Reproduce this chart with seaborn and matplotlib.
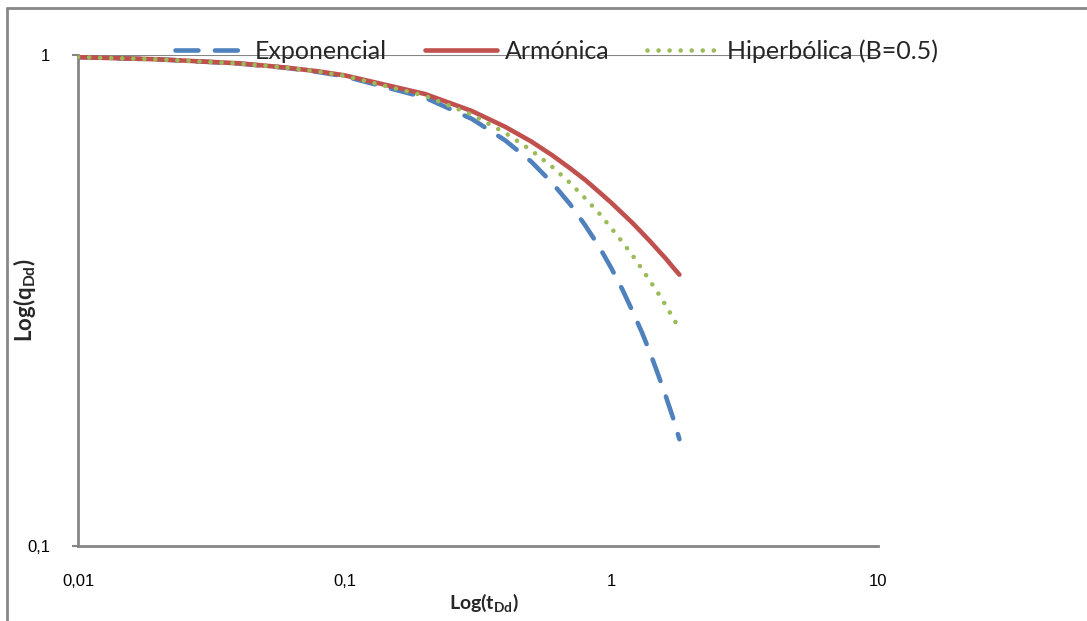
import numpy as np
import pandas as pd
import seaborn as sns
import matplotlib.pyplot as plt
from matplotlib.lines import Line2D
from matplotlib.ticker import FixedLocator, FixedFormatter, NullLocator

# tiempo adimensional t_Dd
t_dd = [0.01, 0.02, 0.04, 0.06, 0.08, 0.1, 0.2, 0.3, 0.4, 0.5, 0.6, 0.7,
        0.8, 0.9, 1.0, 1.1, 1.2, 1.3, 1.4, 1.5, 1.6, 1.7, 1.8]

# caudal adimensional q_Dd de cada tipo de declinacion
q_exponencial = [0.990, 0.980, 0.961, 0.942, 0.923, 0.905, 0.819, 0.741,
                 0.670, 0.607, 0.549, 0.497, 0.449, 0.407, 0.368, 0.333,
                 0.301, 0.273, 0.247, 0.223, 0.202, 0.183, 0.165]
q_armonica = [0.990, 0.980, 0.962, 0.943, 0.926, 0.909, 0.833, 0.769,
              0.714, 0.667, 0.625, 0.588, 0.556, 0.526, 0.500, 0.476,
              0.455, 0.435, 0.417, 0.400, 0.385, 0.370, 0.357]
q_hiperbolica = [0.990, 0.980, 0.961, 0.943, 0.925, 0.907, 0.826, 0.756,
                 0.694, 0.640, 0.592, 0.549, 0.510, 0.476, 0.444, 0.416,
                 0.391, 0.367, 0.346, 0.327, 0.309, 0.292, 0.277]

series = ['Exponencial', 'Armónica', 'Hiperbólica (B=0.5)']
x_ticks = [0.01, 0.1, 1, 10]
x_labels = ['0,01', '0,1', '1', '10']
y_ticks = [0.1, 1]
y_labels = ['0,1', '1']

sns.set_theme(style='white')
plt.rcParams['font.family'] = ['Lato', 'DejaVu Sans']
plt.rcParams['mathtext.fontset'] = 'custom'
plt.rcParams['mathtext.bf'] = 'Lato:bold'
plt.rcParams['mathtext.rm'] = 'Lato'

df = pd.DataFrame({'t': t_dd, series[0]: q_exponencial,
                   series[1]: q_armonica, series[2]: q_hiperbolica})

fig = plt.figure(figsize=(10.87, 6.21), dpi=100)
ax = fig.add_axes([0.0718, 0.1208, 0.7359, 0.7906])

blue, red, green = '#4F81BD', '#C0504D', '#9BBB59'
lw = 3.3
dash_blue = [5, 3.6]
dot_green = [0.01, 2.4]

sns.lineplot(data=df, x='t', y=series[0], ax=ax, color=blue, lw=lw, zorder=3)
ax.lines[-1].set_dashes(dash_blue)
ax.lines[-1].set_dash_capstyle('round')
sns.lineplot(data=df, x='t', y=series[1], ax=ax, color=red, lw=lw, zorder=4)
sns.lineplot(data=df, x='t', y=series[2], ax=ax, color=green, lw=lw, zorder=5)
ax.lines[-1].set_dashes(dot_green)
ax.lines[-1].set_dash_capstyle('round')

ax.set_xscale('log')
ax.set_yscale('log')
ax.set_xlim(0.01, 10)
ax.set_ylim(0.1, 1)
ax.xaxis.set_major_locator(FixedLocator(x_ticks))
ax.xaxis.set_major_formatter(FixedFormatter(x_labels))
ax.xaxis.set_minor_locator(NullLocator())
ax.yaxis.set_major_locator(FixedLocator(y_ticks))
ax.yaxis.set_major_formatter(FixedFormatter(y_labels))
ax.yaxis.set_minor_locator(NullLocator())

ax.tick_params(axis='both', labelfontfamily='Liberation Sans', labelsize=12,
               labelcolor='black')
ax.tick_params(axis='x', length=0, pad=20)
ax.tick_params(axis='y', length=4, width=1.5, color='#868686', pad=16,
               left=True)

ax.axhline(1, color='#868686', lw=1.5, zorder=1)
for s in ['top', 'right']:
    ax.spines[s].set_visible(False)
for s in ['left', 'bottom']:
    ax.spines[s].set_color('#868686')
    ax.spines[s].set_linewidth(2)

ax.set_xlabel(r'$\mathbf{Log(t_{Dd})}$', fontsize=14)
ax.set_ylabel(r'$\mathbf{Log(q_{Dd})}$', fontsize=16)
ax.xaxis.set_label_coords(0.507, -0.094)
ax.yaxis.set_label_coords(-0.05, 0.5)

handles = [
    Line2D([], [], color=blue, lw=lw, dashes=dash_blue, dash_capstyle='round'),
    Line2D([], [], color=red, lw=lw),
    Line2D([], [], color=green, lw=lw, dashes=dot_green,
           dash_capstyle='round'),
]
fig.legend(handles, series, loc='center', bbox_to_anchor=(0.512, 0.918),
           ncol=3, frameon=False, fontsize=18, handlelength=2.9,
           handletextpad=0.3, columnspacing=1.5)

# marco exterior del grafico
fig.add_artist(Line2D([0.0065, 0.0065], [0, 0.987], color='#888888', lw=2,
                      transform=fig.transFigure))
fig.add_artist(Line2D([0.0065, 1], [0.987, 0.987], color='#888888', lw=2,
                      transform=fig.transFigure))

fig.savefig('out.png', dpi=100)
